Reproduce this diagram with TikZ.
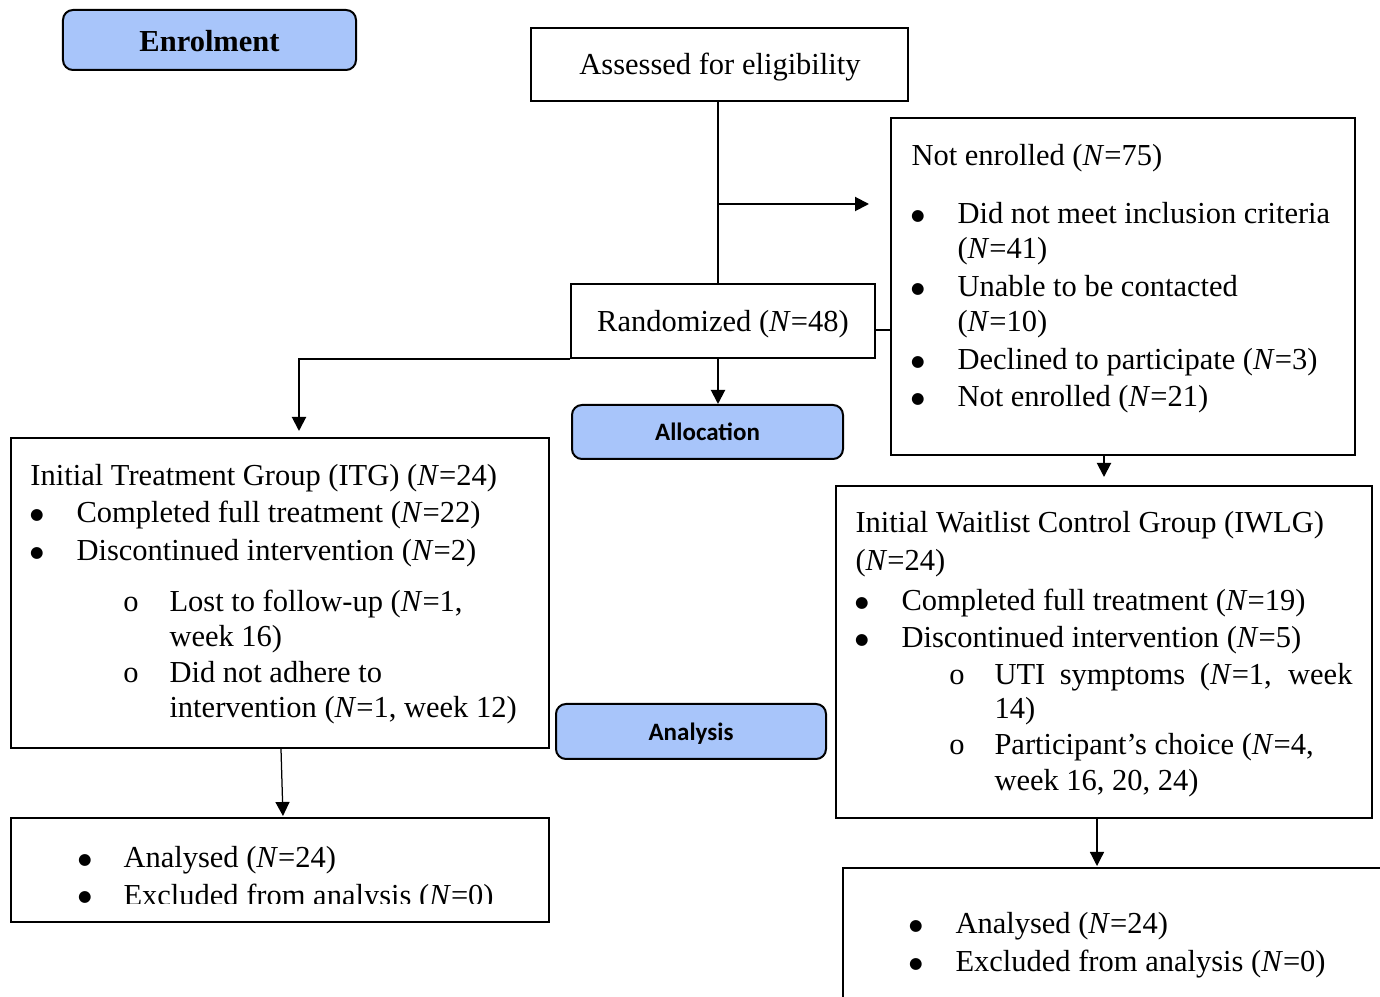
\documentclass[tikz,border=0pt]{standalone}
\usepackage{fontspec}
\setmainfont{Liberation Serif}
\newfontfamily\calib{Carlito}
\newfontfamily\dejavu{DejaVu Sans}
\usetikzlibrary{arrows.meta}
\definecolor{labblue}{RGB}{168,197,250}
\newcommand\NN{\textit{N}}
\newcommand\bigbul{{\dejavu\fontsize{6.2}{6.2}\selectfont ●}}
\begin{document}
\begin{tikzpicture}[x=0.4pt,y=-0.4pt,
  font=\fontsize{12.2}{14.4}\selectfont,
  box/.style={draw, line width=0.8pt, inner sep=0pt, fill=white},
  lab/.style={draw, line width=0.8pt, rounded corners=4pt, fill=labblue, inner sep=0pt},
  txt/.style={anchor=base west, inner sep=0pt},
  ctxt/.style={anchor=base, inner sep=0pt},
  bul/.style={anchor=base, inner sep=0pt, yshift=1.2pt},
  cir/.style={anchor=base, inner sep=0pt},
  ln/.style={line width=0.8pt},
  arr/.style={line width=0.8pt, -{Triangle[length=5.6pt,width=5.6pt]}},
  thinarr/.style={line width=0.5pt, -{Triangle[length=5.6pt,width=5.6pt]}},
  sansb/.style={anchor=base, inner sep=0pt, font=\calib\fontsize{10}{12}\selectfont\bfseries}]
\clip (0,0) rectangle (1380,997);
\fill[white] (0,0) rectangle (1380,997);

% label boxes
\node[lab, minimum width=117.2pt, minimum height=24pt] (enrol) at (209.5,40) {};
\node[ctxt, font=\fontsize{12.2}{14.4}\selectfont\bfseries] (enrolt) at (209.5,52) {Enrolment};
\node[lab, minimum width=108.4pt, minimum height=21.6pt] (alloc) at (707.5,432) {};
\node[sansb] (allt) at (707.5,441) {Allocation};
\node[lab, minimum width=108pt, minimum height=22pt] (anal) at (691,731.5) {};
\node[sansb] (analt) at (691,741) {Analysis};

% main boxes
\node[box, minimum width=150.8pt, minimum height=29.2pt] (assess) at (719.5,64.5) {};
\node[ctxt] (assesst) at (720,75) {Assessed for eligibility};
\node[box, minimum width=185.6pt, minimum height=134.8pt] (notenr) at (1123,286.5) {};
\node[box, minimum width=121.6pt, minimum height=29.6pt] (rand) at (723,321) {};
\node[ctxt] (randt) at (723,332) {Randomized (\NN=48)};
\node[box, minimum width=215.2pt, minimum height=124pt] (itg) at (280,593) {};
\node[box, minimum width=214.4pt, minimum height=132.8pt] (iwlg) at (1104,652) {};
\node[box, minimum width=215.2pt, minimum height=41.6pt] (an1) at (280,870) {};
\node[box, minimum width=222.8pt, minimum height=56.8pt] (an2) at (1121.5,939) {};

% Not enrolled text
\node[txt] (ne0) at (911,166) {Not enrolled (\NN=75)};
\node[bul] (neb1) at (918,224) {\bigbul};
\node[txt] (ne1) at (957,224) {Did not meet inclusion criteria};
\node[txt] (ne1b) at (957,259) {(\NN=41)};
\node[bul] (neb2) at (918,297) {\bigbul};
\node[txt] (ne2) at (957,297) {Unable to be contacted};
\node[txt] (ne2b) at (957,332) {(\NN=10)};
\node[bul] (neb3) at (918,370) {\bigbul};
\node[txt] (ne3) at (957,370) {Declined to participate (\NN=3)};
\node[bul] (neb4) at (918,407) {\bigbul};
\node[txt] (ne4) at (957,407) {Not enrolled (\NN=21)};

% ITG text
\node[txt] (it0) at (30,486) {Initial Treatment Group (ITG) (\NN=24)};
\node[bul] (itb1) at (37,523) {\bigbul};
\node[txt] (it1) at (76,523) {Completed full treatment (\NN=22)};
\node[bul] (itb2) at (37,561) {\bigbul};
\node[txt] (it2) at (76,561) {Discontinued intervention (\NN=2)};
\node[cir] (itc1) at (131,612) {o};
\node[txt] (it3) at (169,612) {Lost to follow-up (\NN=1,};
\node[txt] (it3b) at (169,647) {week 16)};
\node[cir] (itc2) at (131,683) {o};
\node[txt] (it4) at (169,683) {Did not adhere to};
\node[txt] (it4b) at (169,718) {intervention (\NN=1, week 12)};

% IWLG text
\node[txt] (iw0) at (855,533) {Initial Waitlist Control Group (IWLG)};
\node[txt] (iw0b) at (855,571) {(\NN=24)};
\node[bul] (iwb1) at (862,611) {\bigbul};
\node[txt] (iw1) at (901,611) {Completed full treatment (\NN=19)};
\node[bul] (iwb2) at (862,648) {\bigbul};
\node[txt] (iw2) at (901,648) {Discontinued intervention (\NN=5)};
\node[cir] (iwc1) at (957,685) {o};
\node[txt] (iw3) at (994,685) {\makebox[143.2pt][s]{UTI symptoms (\NN=1, week}};
\node[txt] (iw3b) at (994,719) {14)};
\node[cir] (iwc2) at (957,755) {o};
\node[txt] (iw4) at (994,755) {Participant’s choice (\NN=4,};
\node[txt] (iw4b) at (994,790) {week 16, 20, 24)};

% Analysed left
\node[bul] (a1b1) at (85,867) {\bigbul};
\node[txt] (a1t1) at (123,867) {Analysed (\NN=24)};
\begin{scope}
\clip (40,880) rectangle (540,903);
\node[bul] (a1b2) at (85,905) {\bigbul};
\node[txt] (a1t2) at (123,905) {Excluded from analysis (\NN=0)};
\end{scope}

% Analysed right
\node[bul] (a2b1) at (916,933) {\bigbul};
\node[txt] (a2t1) at (955,933) {Analysed (\NN=24)};
\node[bul] (a2b2) at (916,971) {\bigbul};
\node[txt] (a2t2) at (955,971) {Excluded from analysis (\NN=0)};

% connectors
\draw[ln] ([xshift=-0.6pt]assess.south) -- ([xshift=-0.6pt]assess.south |- rand.north);
\coordinate (br) at ([xshift=-0.6pt,yshift=-40.8pt]assess.south);
\draw[arr, shorten >=8.4pt] (br) -- (br -| notenr.west);
\draw[ln] ([yshift=-3.6pt]rand.east) -- ([yshift=-3.6pt]rand.east -| notenr.west);
\draw[arr, shorten >=2.4pt] (rand.south west) -| ([xshift=7.6pt]itg.north);
\draw[arr] ([xshift=-0.6pt]rand.south -| assess.south) -- ([xshift=-0.6pt]assess.south |- alloc.north);
\draw[arr, shorten >=3.2pt] (iwlg.north |- notenr.south) -- (iwlg.north);
\draw[thinarr, shorten >=0.4pt] ([xshift=0.4pt]itg.south) -- ([xshift=1.2pt]an1.north);
\draw[thinarr, shorten >=0.4pt] ([xshift=-2.8pt]iwlg.south) -- ([xshift=-2.8pt]iwlg.south |- an2.north);
\end{tikzpicture}
\end{document}
